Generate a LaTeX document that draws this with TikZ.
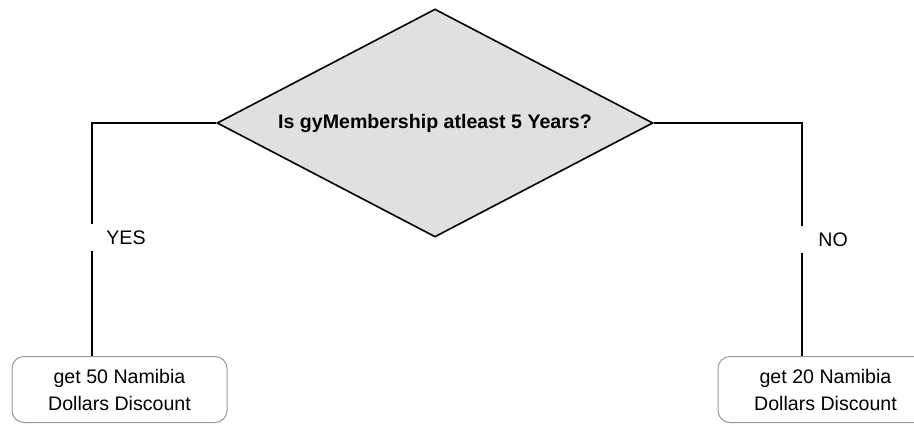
\documentclass[tikz,border=0pt]{standalone}
\usepackage{fontspec}
\setmainfont{Liberation Sans}
\usetikzlibrary{shapes.geometric}
\tikzset{
  decis/.style = {diamond, draw, line width=0.8pt, fill=black!12, inner sep=0pt,
                  aspect=1.912, minimum width=218pt, minimum height=114pt,
                  font=\fontsize{9.8}{12}\selectfont\bfseries},
  rbox/.style  = {rectangle, draw=black!40, line width=0.5pt, rounded corners=6pt,
                  align=center, minimum width=107.5pt, minimum height=33pt,
                  font=\fontsize{9.8}{13.5}\selectfont},
  lbl/.style   = {font=\fontsize{9.8}{12}\selectfont, inner sep=0pt,
                  minimum height=13.5pt, anchor=west},
  conn/.style  = {line width=0.75pt},
}

\begin{document}
\begin{tikzpicture}[x=0.5pt, y=-0.5pt]
  \useasboundingbox (0,0) rectangle (914,423);
  \clip (0,0) rectangle (914,423);
  % decision and outcomes
  \node[decis] (dec) at (435,123) {Is gyMembership atleast 5 Years?};
  \node[rbox] (yesbox) at (119.5,389.5) {get 50 Namibia\\Dollars Discount};
  \node[rbox] (nobox)  at (825.5,389.5) {get 20 Namibia\\Dollars Discount};
  \coordinate (ycorner) at (92,123);
  \coordinate (ncorner) at (802,123);
  \node[lbl] (yes) at (106,237.5) {YES};
  \node[lbl] (no)  at (818,239.5) {NO};
  % branches
  \draw[conn] (dec.west) -- (ycorner) -- (ycorner |- yes.north);
  \draw[conn] (ycorner |- yes.south) -- (ycorner |- yesbox.north);
  \draw[conn] (dec.east) -- (ncorner) -- (ncorner |- no.north);
  \draw[conn] (ncorner |- no.south) -- (ncorner |- nobox.north);
\end{tikzpicture}
\end{document}
